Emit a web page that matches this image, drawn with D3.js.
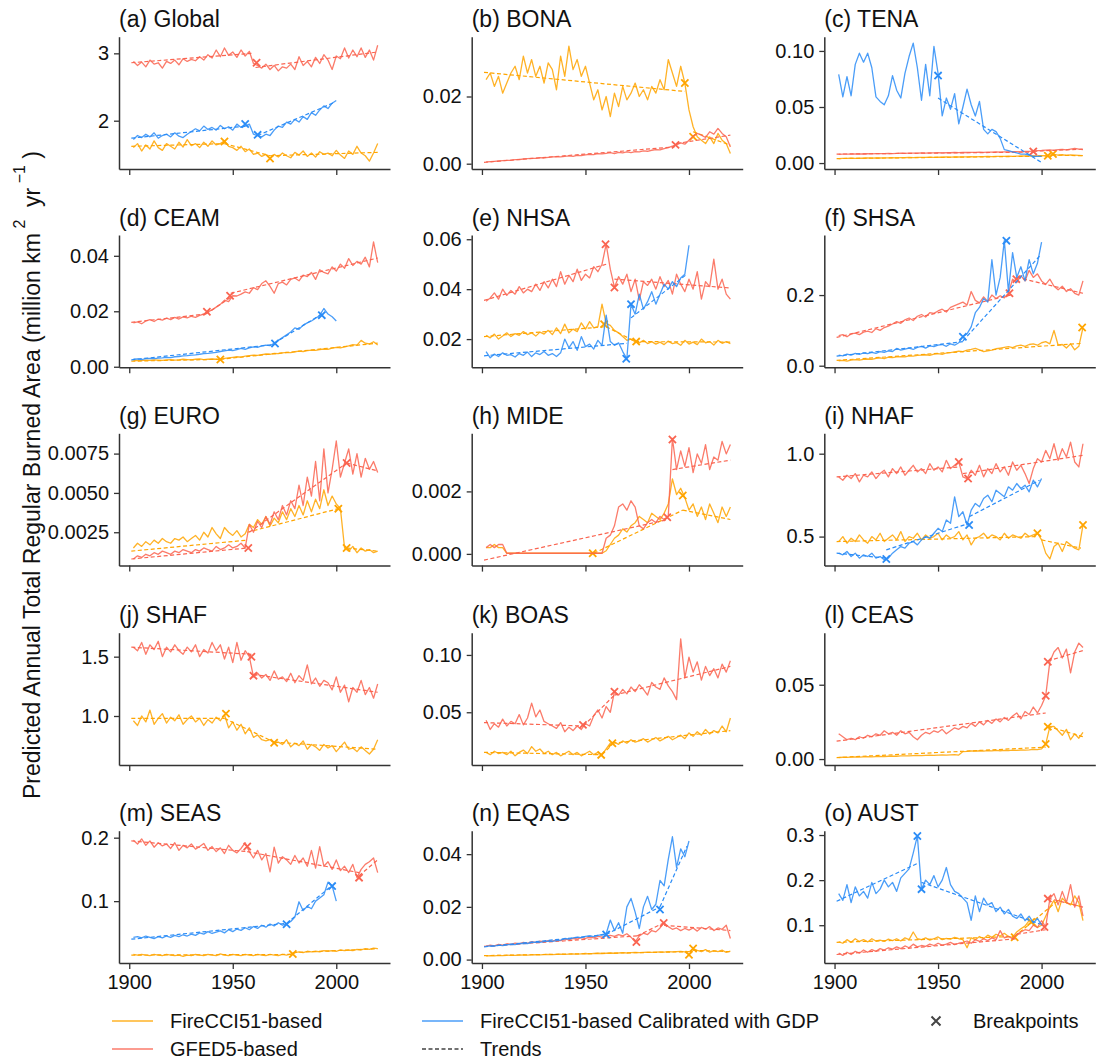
<!DOCTYPE html>
<html><head><meta charset="utf-8">
<script src="https://cdn.jsdelivr.net/npm/d3@7"></script>
<style>body{margin:0;background:#fff}svg{display:block;font-family:"Liberation Sans",Arial,sans-serif}</style>
</head><body><svg id="c" width="1097" height="1064"></svg>
<script>
// ---------- data (annual values sampled every 2 years from 1902) ----------
const startYear = 1902, yearStep = 2;
const xTicks = [1900, 1950, 2000];

// (a) Global
const aFire = [1.60,1.66,1.55,1.64,1.58,1.70,1.60,1.56,1.66,1.62,1.58,1.68,1.61,1.72,1.63,1.66,1.60,1.68,1.62,1.70,1.64,1.66,1.70,1.62,1.60,1.56,1.62,1.54,1.58,1.50,1.52,1.47,1.50,1.44,1.50,1.46,1.52,1.48,1.45,1.53,1.49,1.55,1.47,1.52,1.46,1.54,1.50,1.52,1.48,1.56,1.49,1.44,1.55,1.50,1.62,1.52,1.48,1.40,1.52,1.66];
const aGfed = [2.88,2.82,2.87,2.80,2.90,2.84,2.86,2.78,2.88,2.85,2.90,2.83,2.92,2.88,2.91,2.89,2.95,2.90,2.98,2.93,3.05,2.95,3.08,2.97,3.02,2.94,3.05,2.96,3.03,2.85,2.82,2.78,2.84,2.76,2.82,2.74,2.80,2.78,2.84,2.76,2.95,2.82,2.88,2.80,2.94,2.85,2.98,2.90,2.76,2.96,2.92,3.08,2.93,3.05,2.95,3.08,2.94,3.05,2.90,3.12];
const aGdp = [1.72,1.78,1.75,1.80,1.76,1.82,1.74,1.78,1.80,1.76,1.82,1.77,1.75,1.80,1.84,1.88,1.85,1.92,1.87,1.90,1.86,1.93,1.88,1.91,1.86,1.95,1.90,1.92,1.95,1.80,1.78,1.76,1.80,1.78,1.86,1.92,1.90,1.98,1.95,2.02,1.98,2.06,2.02,2.12,2.08,2.16,2.22,2.18,2.26,2.30];
const aTrendFire = [[[1901,1.62],[1946,1.66]],[[1946,1.66],[1968,1.48]],[[1968,1.48],[2020,1.53]]];
const aTrendGfed = [[[1901,2.86],[1959,3.0]],[[1961,2.79],[2020,3.02]]];
const aTrendGdp = [[[1901,1.74],[1956,1.92]],[[1962,1.78],[1999,2.27]]];
const aBreakFire = [[1946,1.69],[1968,1.44]];
const aBreakGfed = [[1961.5,2.86]];
const aBreakGdp = [[1956,1.95],[1962,1.79]];

// (b) BONA
const bFire = [0.025,0.027,0.023,0.026,0.021,0.024,0.027,0.029,0.025,0.032,0.027,0.031,0.026,0.029,0.024,0.030,0.028,0.022,0.032,0.026,0.035,0.028,0.031,0.026,0.029,0.024,0.019,0.022,0.016,0.020,0.014,0.021,0.017,0.023,0.019,0.021,0.024,0.020,0.022,0.019,0.023,0.021,0.025,0.022,0.031,0.027,0.023,0.029,0.024,0.016,0.011,0.008,0.007,0.006,0.008,0.006,0.009,0.007,0.006,0.003];
const bGfed = [0.0005,0.0006,0.0007,0.0008,0.0009,0.0010,0.0010,0.0012,0.0012,0.0014,0.0015,0.0016,0.0016,0.0018,0.0017,0.0019,0.0020,0.0021,0.0020,0.0022,0.0023,0.0022,0.0025,0.0024,0.0026,0.0028,0.0027,0.0030,0.0029,0.0031,0.0033,0.0030,0.0034,0.0032,0.0035,0.0033,0.0036,0.0035,0.0038,0.0037,0.0040,0.0042,0.0041,0.0045,0.0048,0.0052,0.0056,0.0062,0.0058,0.0070,0.0082,0.0090,0.0085,0.0078,0.0095,0.0088,0.0105,0.0090,0.0080,0.0050];
const bTrendFire = [[[1901,0.0272],[1998,0.0215]],[[2002,0.0095],[2020,0.0055]]];
const bTrendGfed = [[[1901,0.0004],[1993,0.0050]],[[1994,0.0060],[2020,0.0085]]];
const bBreakFire = [[1998,0.024],[2002,0.008]];
const bBreakGfed = [[1993.5,0.0056]];

// (c) TENA
const cFire = [0.0040,0.0042,0.0041,0.0043,0.0042,0.0044,0.0043,0.0045,0.0044,0.0046,0.0045,0.0047,0.0046,0.0048,0.0047,0.0049,0.0048,0.0050,0.0049,0.0050,0.0051,0.0050,0.0052,0.0051,0.0053,0.0052,0.0054,0.0053,0.0055,0.0054,0.0056,0.0055,0.0057,0.0056,0.0058,0.0057,0.0059,0.0058,0.0060,0.0059,0.0060,0.0061,0.0060,0.0062,0.0061,0.0063,0.0062,0.0064,0.0063,0.0065,0.0066,0.0070,0.0078,0.0070,0.0074,0.0068,0.0072,0.0070,0.0068,0.0066];
const cGfed = [0.0078,0.0079,0.0080,0.0079,0.0081,0.0082,0.0081,0.0083,0.0082,0.0084,0.0085,0.0084,0.0086,0.0085,0.0087,0.0088,0.0086,0.0088,0.0089,0.0088,0.0090,0.0089,0.0091,0.0090,0.0092,0.0091,0.0093,0.0092,0.0094,0.0093,0.0095,0.0094,0.0096,0.0095,0.0097,0.0096,0.0098,0.0097,0.0099,0.0098,0.0100,0.0099,0.0101,0.0102,0.0100,0.0103,0.0104,0.0106,0.0110,0.0112,0.0115,0.0118,0.0114,0.0120,0.0122,0.0118,0.0125,0.0130,0.0124,0.0120];
const cGdp = [0.079,0.059,0.077,0.060,0.088,0.098,0.090,0.098,0.085,0.059,0.055,0.052,0.060,0.078,0.065,0.058,0.080,0.095,0.107,0.085,0.056,0.088,0.060,0.104,0.080,0.042,0.058,0.048,0.062,0.035,0.050,0.066,0.052,0.042,0.055,0.030,0.026,0.030,0.028,0.022,0.012,0.011,0.010,0.009,0.008,0.008,0.007,0.006,0.006,0.006];
const cTrendFire = [[[1901,0.0040],[2003,0.0062]],[[2005,0.0072],[2020,0.0065]]];
const cTrendGfed = [[[1901,0.0080],[1996,0.0098]],[[1996,0.0105],[2020,0.0125]]];
const cTrendGdp = [[[1950,0.058],[2000,0.0005]]];
const cBreakFire = [[2003,0.0065],[2005.5,0.008]];
const cBreakGfed = [[1996,0.0104]];
const cBreakGdp = [[1950,0.078]];

// (d) CEAM
const dFire = [0.0022,0.0023,0.0022,0.0024,0.0023,0.0025,0.0024,0.0023,0.0025,0.0026,0.0024,0.0025,0.0027,0.0026,0.0025,0.0027,0.0028,0.0026,0.0027,0.0028,0.0027,0.0026,0.0030,0.0032,0.0034,0.0036,0.0035,0.0038,0.0040,0.0042,0.0041,0.0044,0.0046,0.0045,0.0048,0.0047,0.0050,0.0052,0.0051,0.0054,0.0056,0.0055,0.0058,0.0060,0.0059,0.0062,0.0064,0.0063,0.0067,0.0070,0.0068,0.0072,0.0075,0.0080,0.0078,0.0095,0.0085,0.0082,0.0090,0.0078];
const dGfed = [0.0158,0.0162,0.0155,0.0165,0.0170,0.0163,0.0172,0.0168,0.0175,0.0170,0.0178,0.0172,0.0180,0.0176,0.0182,0.0178,0.0185,0.0190,0.0198,0.0205,0.0215,0.0225,0.0240,0.0235,0.0256,0.0255,0.0262,0.0270,0.0265,0.0285,0.0278,0.0300,0.0310,0.0290,0.0265,0.0300,0.0305,0.0295,0.0315,0.0320,0.0310,0.0330,0.0325,0.0340,0.0315,0.0350,0.0340,0.0335,0.0360,0.0345,0.0370,0.0355,0.0390,0.0365,0.0380,0.0370,0.0395,0.0360,0.0450,0.0375];
const dGdp = [0.0027,0.0028,0.0026,0.0029,0.0030,0.0029,0.0031,0.0032,0.0034,0.0033,0.0036,0.0037,0.0039,0.0040,0.0042,0.0043,0.0045,0.0047,0.0048,0.0050,0.0052,0.0055,0.0057,0.0060,0.0058,0.0062,0.0066,0.0063,0.0068,0.0072,0.0070,0.0075,0.0078,0.0076,0.0084,0.0095,0.0105,0.0115,0.0125,0.0140,0.0135,0.0150,0.0158,0.0165,0.0175,0.0185,0.0210,0.0190,0.0180,0.0165];
const dTrendFire = [[[1901,0.0020],[1944,0.0027]],[[1944,0.0027],[2020,0.0085]]];
const dTrendGfed = [[[1901,0.0160],[1937,0.0190]],[[1937,0.0190],[1949,0.0250]],[[1949,0.0265],[2020,0.0392]]];
const dTrendGdp = [[[1901,0.0025],[1970,0.0080]],[[1970,0.0085],[1993,0.0190]]];
const dBreakFire = [[1944,0.0026]];
const dBreakGfed = [[1937.5,0.0198],[1948.7,0.0256]];
const dBreakGdp = [[1970.4,0.0084],[1993,0.0186]];

// (e) NHSA
const eFire = [0.0215,0.0205,0.0220,0.0200,0.0212,0.0225,0.0210,0.0222,0.0215,0.0230,0.0218,0.0225,0.0212,0.0228,0.0220,0.0235,0.0218,0.0245,0.0222,0.0260,0.0225,0.0240,0.0230,0.0265,0.0240,0.0270,0.0245,0.0250,0.0340,0.0262,0.0255,0.0235,0.0225,0.0210,0.0195,0.0200,0.0190,0.0185,0.0195,0.0182,0.0190,0.0180,0.0188,0.0178,0.0192,0.0182,0.0186,0.0175,0.0195,0.0180,0.0188,0.0178,0.0200,0.0185,0.0190,0.0176,0.0195,0.0183,0.0190,0.0182];
const eGfed = [0.0352,0.0365,0.0385,0.0360,0.0400,0.0375,0.0395,0.0380,0.0410,0.0385,0.0400,0.0390,0.0420,0.0395,0.0430,0.0405,0.0440,0.0410,0.0470,0.0420,0.0455,0.0430,0.0480,0.0435,0.0460,0.0445,0.0490,0.0470,0.0500,0.0580,0.0480,0.0407,0.0450,0.0420,0.0460,0.0390,0.0440,0.0356,0.0430,0.0415,0.0440,0.0400,0.0450,0.0410,0.0435,0.0380,0.0460,0.0420,0.0390,0.0440,0.0400,0.0470,0.0360,0.0430,0.0410,0.0520,0.0400,0.0440,0.0380,0.0360];
const eGdp = [0.0150,0.0125,0.0140,0.0130,0.0145,0.0135,0.0138,0.0128,0.0142,0.0135,0.0148,0.0130,0.0145,0.0138,0.0150,0.0135,0.0142,0.0130,0.0145,0.0200,0.0165,0.0190,0.0155,0.0210,0.0170,0.0180,0.0160,0.0195,0.0175,0.0296,0.0190,0.0175,0.0185,0.0150,0.0121,0.0340,0.0300,0.0380,0.0320,0.0350,0.0390,0.0340,0.0380,0.0420,0.0400,0.0430,0.0410,0.0445,0.0460,0.0576];
const eTrendFire = [[[1901,0.0210],[1960,0.0250]],[[1960,0.0250],[1974,0.0190]],[[1974,0.0190],[2020,0.0188]]];
const eTrendGfed = [[[1901,0.0355],[1960,0.0500]],[[1964,0.0440],[2020,0.0405]]];
const eTrendGdp = [[[1901,0.0133],[1970,0.0183]],[[1972,0.0285],[1999,0.0460]]];
const eBreakFire = [[1959,0.026],[1974.5,0.019]];
const eBreakGfed = [[1959.7,0.058],[1964,0.0407]];
const eBreakGdp = [[1969.7,0.0121],[1972,0.034]];

// (f) SHSA
const fFire = [0.014,0.015,0.013,0.016,0.017,0.016,0.018,0.019,0.018,0.021,0.022,0.020,0.024,0.023,0.025,0.026,0.025,0.028,0.027,0.029,0.030,0.031,0.029,0.033,0.034,0.032,0.036,0.037,0.039,0.041,0.040,0.044,0.046,0.049,0.045,0.040,0.042,0.044,0.048,0.050,0.052,0.054,0.051,0.056,0.058,0.055,0.060,0.062,0.058,0.065,0.068,0.062,0.100,0.058,0.060,0.050,0.062,0.045,0.055,0.108];
const fGfed = [0.085,0.088,0.082,0.090,0.092,0.088,0.095,0.098,0.094,0.105,0.100,0.108,0.112,0.118,0.125,0.120,0.130,0.135,0.128,0.140,0.145,0.138,0.150,0.148,0.155,0.160,0.152,0.165,0.170,0.175,0.180,0.172,0.210,0.185,0.178,0.195,0.182,0.200,0.190,0.198,0.192,0.205,0.245,0.235,0.255,0.240,0.270,0.250,0.260,0.240,0.230,0.245,0.225,0.215,0.225,0.210,0.218,0.205,0.200,0.240];
const fGdp = [0.030,0.028,0.033,0.030,0.035,0.032,0.036,0.034,0.038,0.035,0.040,0.038,0.042,0.040,0.049,0.044,0.047,0.050,0.046,0.052,0.055,0.050,0.056,0.054,0.058,0.060,0.055,0.062,0.058,0.065,0.082,0.090,0.110,0.150,0.165,0.190,0.180,0.300,0.200,0.250,0.354,0.210,0.320,0.250,0.280,0.240,0.300,0.260,0.290,0.350];
const fTrendFire = [[[1901,0.015],[2019,0.063]]];
const fTrendGfed = [[[1901,0.080],[1985,0.200]],[[1988,0.250],[2020,0.205]]];
const fTrendGdp = [[[1901,0.027],[1962,0.068]],[[1962,0.070],[1999,0.310]]];
const fBreakFire = [[2019.6,0.108]];
const fBreakGfed = [[1984.5,0.205],[1987.8,0.245]];
const fBreakGdp = [[1962,0.082],[1983,0.354]];

// (g) EURO
const gFire = [0.0015,0.0018,0.0016,0.0019,0.0017,0.0020,0.0018,0.0021,0.0019,0.0018,0.0021,0.0020,0.0022,0.0019,0.0021,0.0023,0.0020,0.0025,0.0022,0.0028,0.0024,0.0021,0.0028,0.0025,0.0023,0.0026,0.0022,0.0024,0.0030,0.0028,0.0033,0.0030,0.0035,0.0029,0.0034,0.0031,0.0038,0.0033,0.0040,0.0035,0.0042,0.0036,0.0045,0.0038,0.0046,0.0040,0.0052,0.0042,0.0048,0.0043,0.0040,0.0015,0.0013,0.0016,0.0012,0.0015,0.0013,0.0014,0.0012,0.0013];
const gGfed = [0.0008,0.0010,0.0009,0.0011,0.0010,0.0012,0.0011,0.0013,0.0012,0.0011,0.0013,0.0012,0.0014,0.0013,0.0012,0.0014,0.0013,0.0015,0.0014,0.0013,0.0016,0.0014,0.0015,0.0017,0.0015,0.0016,0.0018,0.0015,0.0030,0.0025,0.0032,0.0028,0.0035,0.0030,0.0038,0.0033,0.0042,0.0036,0.0045,0.0040,0.0055,0.0042,0.0060,0.0048,0.0070,0.0045,0.0078,0.0050,0.0065,0.0083,0.0060,0.0069,0.0078,0.0062,0.0075,0.0060,0.0072,0.0065,0.0070,0.0063];
const gTrendFire = [[[1901,0.0013],[1957,0.0020]],[[1957,0.0025],[2001,0.0040]],[[2005,0.0015],[2020,0.0013]]];
const gTrendGfed = [[[1901,0.0008],[1957,0.0015]],[[1958,0.0025],[2005,0.0069]],[[2005,0.0069],[2020,0.0064]]];
const gBreakFire = [[2001,0.0040],[2005,0.0015]];
const gBreakGfed = [[1957.5,0.0015],[2005,0.0069]];

// (h) MIDE
const hFire = [0.0002,0.0002,0.0003,0.0002,0.0002,0.00002,0.00002,0.00002,0.00002,0.00002,0.00002,0.00002,0.00002,0.00002,0.00002,0.00002,0.00002,0.00002,0.00002,0.00002,0.00002,0.00002,0.00002,0.00002,0.00002,0.00002,0.00002,0.00002,0.00002,0.0001,0.0003,0.0005,0.0006,0.0008,0.0007,0.0009,0.0010,0.0012,0.0011,0.0010,0.0013,0.0012,0.0011,0.0013,0.0016,0.0024,0.0019,0.0021,0.0018,0.0014,0.0016,0.0012,0.0015,0.0011,0.0016,0.0013,0.0010,0.0015,0.0012,0.0015];
const hGfed = [0.0002,0.0003,0.0002,0.0003,0.0003,0.00002,0.00002,0.00002,0.00002,0.00002,0.00002,0.00002,0.00002,0.00002,0.00002,0.00002,0.00002,0.00002,0.00002,0.00002,0.00002,0.00002,0.00002,0.00002,0.00002,0.00002,0.00002,0.00002,0.00002,0.0005,0.0006,0.0009,0.0015,0.0016,0.0014,0.0017,0.0015,0.0009,0.0008,0.0010,0.0011,0.0010,0.0012,0.0011,0.0012,0.0037,0.0027,0.0033,0.0028,0.0034,0.0026,0.0032,0.0029,0.0035,0.0027,0.0031,0.0030,0.0036,0.0032,0.0035];
const hTrendFire = [[[1954,0.00002],[1997,0.0014]],[[1997,0.0014],[2020,0.0011]]];
const hTrendGfed = [[[1901,-0.0002],[1990,0.0011]],[[1992,0.0027],[2020,0.0030]]];
const hBreakFire = [[1953.5,0.00002],[1997,0.00187]];
const hBreakGfed = [[1989.5,0.00117],[1992,0.00366]];

// (i) NHAF
const iFire = [0.47,0.50,0.46,0.49,0.47,0.51,0.48,0.46,0.50,0.48,0.52,0.47,0.49,0.51,0.48,0.53,0.47,0.50,0.49,0.52,0.48,0.51,0.49,0.50,0.52,0.48,0.51,0.49,0.50,0.53,0.48,0.51,0.45,0.49,0.50,0.52,0.49,0.51,0.50,0.48,0.52,0.49,0.51,0.50,0.49,0.52,0.50,0.51,0.52,0.48,0.40,0.365,0.44,0.46,0.41,0.47,0.45,0.43,0.42,0.57];
const iGfed = [0.86,0.84,0.87,0.85,0.88,0.83,0.87,0.86,0.89,0.85,0.88,0.90,0.86,0.91,0.88,0.92,0.87,0.90,0.93,0.89,0.91,0.88,0.94,0.90,0.92,0.89,0.96,0.91,0.93,0.95,0.86,0.85,0.90,0.87,0.93,0.86,0.91,0.88,0.94,0.89,0.92,0.87,0.95,0.90,0.93,0.88,0.82,0.91,0.97,0.95,1.02,0.97,1.06,0.96,1.03,0.98,1.07,0.95,0.92,1.06];
const iGdp = [0.40,0.39,0.41,0.38,0.40,0.37,0.39,0.38,0.40,0.37,0.38,0.36,0.37,0.40,0.42,0.44,0.43,0.46,0.47,0.45,0.48,0.50,0.49,0.52,0.55,0.53,0.60,0.58,0.74,0.62,0.65,0.57,0.66,0.70,0.68,0.73,0.75,0.71,0.78,0.76,0.74,0.80,0.78,0.82,0.79,0.81,0.77,0.84,0.80,0.85];
const iTrendFire = [[[1901,0.47],[1998,0.50]],[[2000,0.48],[2019,0.43]]];
const iTrendGfed = [[[1901,0.86],[1960,0.92]],[[1962,0.88],[2020,0.99]]];
const iTrendGdp = [[[1901,0.40],[1925,0.37]],[[1925,0.42],[1965,0.58]],[[1965,0.62],[1999,0.84]]];
const iBreakFire = [[1998,0.52],[2020,0.57]];
const iBreakGfed = [[1960,0.95],[1964.5,0.85]];
const iBreakGdp = [[1925,0.365],[1965,0.57]];

// (j) SHAF
const jFire = [0.96,0.92,1.00,0.95,1.05,0.93,0.98,1.02,0.94,0.99,0.96,1.01,0.93,0.97,1.00,0.95,0.98,0.92,0.97,0.94,0.99,0.96,1.01,0.90,0.95,0.88,0.93,0.85,0.90,0.82,0.84,0.80,0.79,0.80,0.77,0.78,0.76,0.80,0.74,0.77,0.75,0.79,0.72,0.76,0.74,0.71,0.76,0.73,0.75,0.70,0.74,0.78,0.72,0.73,0.70,0.74,0.71,0.68,0.72,0.80];
const jGfed = [1.58,1.55,1.62,1.52,1.60,1.56,1.63,1.50,1.58,1.54,1.60,1.55,1.52,1.58,1.54,1.60,1.50,1.56,1.53,1.62,1.55,1.60,1.48,1.58,1.45,1.62,1.47,1.55,1.50,1.33,1.36,1.32,1.35,1.30,1.38,1.31,1.33,1.29,1.36,1.28,1.34,1.30,1.43,1.27,1.32,1.25,1.30,1.28,1.22,1.33,1.20,1.26,1.12,1.24,1.20,1.30,1.18,1.24,1.15,1.27];
const jTrendFire = [[[1901,0.98],[1946,0.98]],[[1946,0.98],[1970,0.78]],[[1970,0.78],[2020,0.72]]];
const jTrendGfed = [[[1901,1.58],[1959,1.52]],[[1960,1.35],[2020,1.20]]];
const jBreakFire = [[1946.7,1.02],[1970,0.775]];
const jBreakGfed = [[1959,1.50],[1960,1.34]];

// (k) BOAS
const kFire = [0.015,0.013,0.016,0.014,0.015,0.013,0.016,0.012,0.015,0.017,0.014,0.020,0.016,0.018,0.014,0.016,0.013,0.015,0.012,0.014,0.016,0.013,0.015,0.012,0.014,0.016,0.013,0.015,0.013,0.018,0.023,0.024,0.022,0.025,0.023,0.026,0.024,0.025,0.027,0.024,0.026,0.028,0.025,0.027,0.029,0.026,0.028,0.030,0.027,0.032,0.029,0.033,0.030,0.035,0.031,0.034,0.032,0.038,0.033,0.045];
const kGfed = [0.043,0.035,0.040,0.037,0.044,0.038,0.042,0.040,0.048,0.039,0.045,0.058,0.046,0.052,0.042,0.040,0.038,0.036,0.041,0.033,0.037,0.034,0.038,0.035,0.040,0.038,0.047,0.052,0.045,0.055,0.050,0.068,0.065,0.070,0.066,0.072,0.068,0.074,0.070,0.065,0.076,0.072,0.070,0.080,0.073,0.068,0.061,0.114,0.080,0.098,0.085,0.094,0.078,0.090,0.082,0.088,0.080,0.092,0.085,0.095];
const kTrendFire = [[[1901,0.015],[1958,0.013]],[[1958,0.013],[1963,0.022]],[[1963,0.023],[2020,0.034]]];
const kTrendGfed = [[[1901,0.041],[1949,0.038]],[[1949,0.038],[1964,0.065]],[[1964,0.065],[2020,0.090]]];
const kBreakFire = [[1957.6,0.0128],[1963,0.023]];
const kBreakGfed = [[1948.8,0.039],[1964,0.068]];

// (l) CEAS
const lFire = [0.0010,0.0012,0.0011,0.0013,0.0014,0.0013,0.0015,0.0016,0.0015,0.0017,0.0018,0.0017,0.0019,0.0020,0.0019,0.0021,0.0022,0.0021,0.0023,0.0024,0.0023,0.0025,0.0026,0.0025,0.0027,0.0028,0.0026,0.0028,0.0030,0.0027,0.0050,0.0052,0.0055,0.0053,0.0056,0.0054,0.0057,0.0055,0.0058,0.0056,0.0059,0.0057,0.0060,0.0058,0.0061,0.0060,0.0062,0.0065,0.0063,0.0068,0.0101,0.0218,0.0220,0.0190,0.0160,0.0200,0.0130,0.0170,0.0140,0.0180];
const lGfed = [0.017,0.015,0.013,0.014,0.013,0.015,0.014,0.016,0.015,0.017,0.016,0.019,0.017,0.018,0.016,0.019,0.017,0.018,0.015,0.013,0.016,0.018,0.017,0.019,0.018,0.020,0.017,0.019,0.021,0.020,0.022,0.021,0.024,0.022,0.025,0.023,0.026,0.024,0.027,0.025,0.028,0.026,0.029,0.031,0.027,0.032,0.030,0.035,0.031,0.036,0.0426,0.0655,0.072,0.075,0.068,0.074,0.058,0.072,0.078,0.075];
const lTrendFire = [[[1901,0.0010],[2002,0.0080]],[[2003,0.0220],[2020,0.0150]]];
const lTrendGfed = [[[1901,0.012],[2002,0.031]],[[2003,0.066],[2020,0.073]]];
const lBreakFire = [[2002,0.0101],[2003,0.0218]];
const lBreakGfed = [[2002,0.0426],[2003,0.0655]];

// (m) SEAS
const mFire = [0.016,0.015,0.016,0.015,0.014,0.016,0.015,0.014,0.016,0.015,0.014,0.015,0.013,0.015,0.014,0.016,0.015,0.014,0.016,0.015,0.014,0.017,0.015,0.014,0.016,0.015,0.014,0.016,0.015,0.014,0.016,0.015,0.014,0.016,0.015,0.014,0.016,0.015,0.0166,0.019,0.020,0.019,0.021,0.020,0.021,0.020,0.022,0.021,0.022,0.021,0.023,0.022,0.023,0.022,0.024,0.023,0.025,0.024,0.026,0.025];
const mGfed = [0.196,0.190,0.198,0.188,0.195,0.185,0.192,0.187,0.190,0.183,0.192,0.180,0.188,0.184,0.190,0.182,0.186,0.191,0.180,0.186,0.178,0.184,0.175,0.188,0.180,0.176,0.183,0.192,0.178,0.168,0.180,0.165,0.175,0.146,0.185,0.160,0.170,0.165,0.158,0.172,0.160,0.168,0.155,0.180,0.152,0.186,0.155,0.162,0.150,0.165,0.148,0.155,0.145,0.158,0.137,0.150,0.158,0.162,0.168,0.145];
const mGdp = [0.043,0.044,0.042,0.045,0.043,0.041,0.044,0.042,0.045,0.043,0.046,0.044,0.047,0.045,0.048,0.046,0.050,0.048,0.052,0.049,0.051,0.053,0.050,0.055,0.052,0.056,0.054,0.058,0.055,0.060,0.057,0.062,0.059,0.064,0.061,0.066,0.062,0.064,0.068,0.075,0.099,0.085,0.092,0.088,0.100,0.105,0.110,0.130,0.124,0.100];
const mTrendFire = [[[1901,0.015],[1979,0.016]],[[1979,0.019],[2020,0.025]]];
const mTrendGfed = [[[1901,0.195],[1957,0.178]],[[1957,0.178],[2011,0.145]],[[2011,0.140],[2020,0.165]]];
const mTrendGdp = [[[1901,0.040],[1976,0.065]],[[1976,0.065],[1998,0.125]]];
const mBreakFire = [[1979,0.0166]];
const mBreakGfed = [[1957,0.186],[2011,0.137]];
const mBreakGdp = [[1976,0.0636],[1998,0.1237]];

// (n) EQAS
const nFire = [0.0014,0.0015,0.0014,0.0016,0.0015,0.0016,0.0017,0.0016,0.0017,0.0018,0.0017,0.0018,0.0019,0.0018,0.0019,0.0020,0.0019,0.0020,0.0021,0.0020,0.0021,0.0022,0.0021,0.0022,0.0023,0.0022,0.0023,0.0024,0.0023,0.0024,0.0025,0.0024,0.0025,0.0026,0.0025,0.0026,0.0027,0.0026,0.0027,0.0028,0.0027,0.0028,0.0029,0.0028,0.0030,0.0029,0.0030,0.0031,0.0029,0.0018,0.0042,0.0035,0.0030,0.0038,0.0028,0.0034,0.0030,0.0036,0.0027,0.0032];
const nGfed = [0.0050,0.0055,0.0052,0.0058,0.0055,0.0060,0.0058,0.0062,0.0060,0.0065,0.0062,0.0068,0.0065,0.0070,0.0068,0.0072,0.0070,0.0075,0.0072,0.0078,0.0075,0.0080,0.0078,0.0083,0.0080,0.0085,0.0082,0.0088,0.0085,0.0090,0.0092,0.0088,0.0095,0.0090,0.0098,0.0085,0.0067,0.0090,0.0100,0.0095,0.0110,0.0105,0.0120,0.0139,0.0125,0.0115,0.0120,0.0110,0.0118,0.0112,0.0120,0.0108,0.0122,0.0115,0.0125,0.0110,0.0120,0.0115,0.0130,0.0080];
const nGdp = [0.0050,0.0052,0.0051,0.0055,0.0053,0.0056,0.0058,0.0057,0.0060,0.0062,0.0061,0.0064,0.0066,0.0065,0.0068,0.0070,0.0069,0.0072,0.0074,0.0080,0.0078,0.0082,0.0085,0.0083,0.0088,0.0090,0.0087,0.0092,0.0095,0.0098,0.0150,0.0110,0.0140,0.0100,0.0200,0.0232,0.0180,0.0118,0.0200,0.0240,0.0190,0.0210,0.0300,0.0280,0.0380,0.0466,0.0350,0.0420,0.0390,0.0450];
const nTrendFire = [[[1901,0.0015],[2000,0.0030]],[[2002,0.0035],[2020,0.0030]]];
const nTrendGfed = [[[1901,0.0050],[1975,0.0090]],[[1975,0.0090],[1988,0.0140]],[[1988,0.0130],[2020,0.0110]]];
const nTrendGdp = [[[1901,0.0048],[1960,0.0095]],[[1960,0.0095],[1986,0.0200]],[[1986,0.0200],[1999,0.0430]]];
const nBreakFire = [[2000,0.0018],[2002,0.0042]];
const nBreakGfed = [[1974.6,0.0067],[1987.8,0.0139]];
const nBreakGdp = [[1960,0.0095],[1986,0.0190]];

// (o) AUST
const oFire = [0.063,0.060,0.068,0.062,0.070,0.064,0.068,0.063,0.070,0.065,0.067,0.064,0.069,0.066,0.070,0.065,0.072,0.068,0.085,0.070,0.068,0.072,0.067,0.070,0.074,0.068,0.071,0.069,0.073,0.070,0.068,0.050,0.072,0.068,0.075,0.070,0.078,0.073,0.080,0.076,0.082,0.075,0.073,0.085,0.092,0.098,0.110,0.105,0.095,0.100,0.120,0.140,0.155,0.130,0.160,0.150,0.145,0.165,0.150,0.110];
const oGfed = [0.038,0.033,0.040,0.035,0.042,0.038,0.045,0.040,0.046,0.042,0.048,0.045,0.050,0.047,0.052,0.048,0.054,0.050,0.058,0.052,0.055,0.053,0.058,0.055,0.060,0.056,0.058,0.062,0.057,0.060,0.062,0.065,0.060,0.068,0.064,0.070,0.066,0.072,0.068,0.088,0.072,0.075,0.070,0.080,0.085,0.090,0.088,0.100,0.095,0.110,0.096,0.159,0.170,0.145,0.175,0.150,0.190,0.140,0.165,0.120];
const oGdp = [0.170,0.155,0.190,0.150,0.185,0.165,0.175,0.160,0.195,0.170,0.180,0.200,0.185,0.195,0.175,0.205,0.215,0.225,0.260,0.298,0.180,0.200,0.190,0.210,0.185,0.200,0.228,0.190,0.175,0.170,0.160,0.150,0.111,0.165,0.130,0.160,0.145,0.150,0.130,0.140,0.125,0.135,0.120,0.115,0.125,0.110,0.120,0.105,0.115,0.100];
const oTrendFire = [[[1901,0.062],[1987,0.075]],[[1987,0.075],[2008,0.155]],[[2008,0.155],[2020,0.140]]];
const oTrendGfed = [[[1901,0.035],[1988,0.070]],[[1988,0.080],[2002,0.090]],[[2003,0.160],[2020,0.140]]];
const oTrendGdp = [[[1901,0.153],[1940,0.237]],[[1942,0.195],[1999,0.103]]];
const oBreakFire = [[1987,0.0733],[1995,0.107]];
const oBreakGfed = [[2001.4,0.096],[2003,0.159]];
const oBreakGdp = [[1940,0.298],[1942,0.180]];

// panel titles, y domains and tick values
const titles = ['(a) Global','(b) BONA','(c) TENA','(d) CEAM','(e) NHSA','(f) SHSA','(g) EURO','(h) MIDE','(i) NHAF','(j) SHAF','(k) BOAS','(l) CEAS','(m) SEAS','(n) EQAS','(o) AUST'];
const yDomains = [[1.283,3.247],[-0.00158,0.0378],[-0.0053,0.1127],[-0.0002,0.0475],[0.0087,0.0617],[-0.0045,0.37],[0.00038,0.00879],[-0.000375,0.00386],[0.325,1.123],[0.587,1.702],[0.004,0.1194],[-0.004,0.085],[0.0025,0.211],[-0.0013,0.0489],[0.0162,0.3096]];
const yTicks = [[2,3],[0,0.02],[0,0.05,0.10],[0,0.02,0.04],[0.02,0.04,0.06],[0,0.2],[0.0025,0.005,0.0075],[0,0.002],[0.5,1.0],[1.0,1.5],[0.05,0.10],[0,0.05],[0.1,0.2],[0,0.02,0.04],[0.1,0.2,0.3]];
const yFormats = ['d','.2f','.2f','.2f','.2f','.1f','.4f','.3f','.1f','.1f','.2f','.2f','.1f','.2f','.1f'];

const seriesNames = ['FireCCI51-based','GFED5-based','FireCCI51-based Calibrated with GDP','Trends','Breakpoints'];

// ---------- build panel table ----------
const fires = [aFire,bFire,cFire,dFire,eFire,fFire,gFire,hFire,iFire,jFire,kFire,lFire,mFire,nFire,oFire];
const gfeds = [aGfed,bGfed,cGfed,dGfed,eGfed,fGfed,gGfed,hGfed,iGfed,jGfed,kGfed,lGfed,mGfed,nGfed,oGfed];
const gdps = [aGdp,null,cGdp,dGdp,eGdp,fGdp,null,null,iGdp,null,null,null,mGdp,nGdp,oGdp];
const tFires = [aTrendFire,bTrendFire,cTrendFire,dTrendFire,eTrendFire,fTrendFire,gTrendFire,hTrendFire,iTrendFire,jTrendFire,kTrendFire,lTrendFire,mTrendFire,nTrendFire,oTrendFire];
const tGfeds = [aTrendGfed,bTrendGfed,cTrendGfed,dTrendGfed,eTrendGfed,fTrendGfed,gTrendGfed,hTrendGfed,iTrendGfed,jTrendGfed,kTrendGfed,lTrendGfed,mTrendGfed,nTrendGfed,oTrendGfed];
const tGdps = [aTrendGdp,null,cTrendGdp,dTrendGdp,eTrendGdp,fTrendGdp,null,null,iTrendGdp,null,null,null,mTrendGdp,nTrendGdp,oTrendGdp];
const bFires = [aBreakFire,bBreakFire,cBreakFire,dBreakFire,eBreakFire,fBreakFire,gBreakFire,hBreakFire,iBreakFire,jBreakFire,kBreakFire,lBreakFire,mBreakFire,nBreakFire,oBreakFire];
const bGfeds = [aBreakGfed,bBreakGfed,cBreakGfed,dBreakGfed,eBreakGfed,fBreakGfed,gBreakGfed,hBreakGfed,iBreakGfed,jBreakGfed,kBreakGfed,lBreakGfed,mBreakGfed,nBreakGfed,oBreakGfed];
const bGdps = [aBreakGdp,null,cBreakGdp,dBreakGdp,eBreakGdp,fBreakGdp,null,null,iBreakGdp,null,null,null,mBreakGdp,nBreakGdp,oBreakGdp];

// ---------- drawing ----------
const COL = {fire:'#FFA500', gfed:'#FA6450', gdp:'#2A8CF7'};
const AX = '#333';
const colLeft = [119, 471.7, 824.3], plotW = 271;
const rowTop = [36.7, 235, 433.3, 632.7, 830.7], plotH = 132.3;
const xDomain = [1895.05, 2025.95];

const svg = d3.select('#c');
const xMark = s => `M${-s},${-s}L${s},${s}M${-s},${s}L${s},${-s}`;

titles.forEach((title, i) => {
  const c = i % 3, r = Math.floor(i / 3);
  const x0 = colLeft[c], y0 = rowTop[r];
  const x = d3.scaleLinear().domain(xDomain).range([x0, x0 + plotW]);
  const y = d3.scaleLinear().domain(yDomains[i]).range([y0 + plotH, y0]);
  const g = svg.append('g');

  // axes
  const ya = d3.axisLeft(y).tickValues(yTicks[i]).tickFormat(d3.format(yFormats[i])).tickSize(5).tickSizeOuter(0).tickPadding(5);
  const gy = g.append('g').attr('transform', `translate(${x0},0)`).call(ya);
  const xa = d3.axisBottom(x).tickValues(xTicks).tickSize(6).tickSizeOuter(0).tickPadding(6)
    .tickFormat(r === 4 ? d3.format('d') : () => '');
  const gx = g.append('g').attr('transform', `translate(0,${y0 + plotH})`).call(xa);
  [gx, gy].forEach(a => {
    a.select('.domain').attr('stroke', AX).attr('stroke-width', 1.5);
    a.selectAll('.tick line').attr('stroke', AX).attr('stroke-width', 1.3);
    a.selectAll('.tick text').attr('fill', '#111').style('font-size', '20px').style('font-family', '"Liberation Sans",Arial,sans-serif');
  });

  // title
  g.append('text').attr('x', x0).attr('y', y0 - 9.5).text(title)
    .style('font-size', '23px').attr('fill', '#111');

  const line = d3.line().x(d => x(d[0])).y(d => y(d[1]));
  const toPts = arr => arr.map((v, k) => [startYear + k * yearStep, v]);

  const groups = [
    {vals: fires[i], trend: tFires[i], brk: bFires[i], col: COL.fire},
    {vals: gfeds[i], trend: tGfeds[i], brk: bGfeds[i], col: COL.gfed},
    {vals: gdps[i], trend: tGdps[i], brk: bGdps[i], col: COL.gdp}
  ];
  groups.forEach(s => {
    if (!s.vals) return;
    g.append('path').datum(toPts(s.vals)).attr('d', line)
      .attr('fill', 'none').attr('stroke', s.col).attr('stroke-width', 1.3).attr('stroke-opacity', 0.85).attr('stroke-linejoin', 'round');
    s.trend.forEach(seg => {
      g.append('path').datum(seg).attr('d', line).attr('fill', 'none')
        .attr('stroke', s.col).attr('stroke-width', 1.2).attr('stroke-dasharray', '4,2.5');
    });
    s.brk.forEach(b => {
      g.append('path').attr('d', xMark(3.6)).attr('transform', `translate(${x(b[0])},${y(b[1])})`)
        .attr('stroke', s.col).attr('stroke-width', 1.8).attr('fill', 'none');
    });
  });
});

// y label
const yl = svg.append('text').attr('transform', 'translate(40,475) rotate(-90)')
  .attr('text-anchor', 'middle').style('font-size', '23px').attr('fill', '#111');
yl.append('tspan').text('Predicted Annual Total Regular Burned Area (million km');
yl.append('tspan').attr('dy', -15).style('font-size', '16px').text('\u00a02');
yl.append('tspan').attr('dy', 15).text('\u00a0\u00a0yr');
yl.append('tspan').attr('dy', -15).style('font-size', '16px').text('\u00a0\u22121');
yl.append('tspan').attr('dy', 15).text('\u00a0)');

// legend
const leg = svg.append('g').style('font-size', '20px').attr('fill', '#111');
const legItems = [
  {x: 112, y: 1021, type: 'line', col: COL.fire, label: seriesNames[0]},
  {x: 112, y: 1049, type: 'line', col: COL.gfed, label: seriesNames[1]},
  {x: 422, y: 1021, type: 'line', col: COL.gdp, label: seriesNames[2]},
  {x: 422, y: 1049, type: 'dash', col: '#222', label: seriesNames[3]},
  {x: 926, y: 1021, type: 'mark', col: '#444', label: seriesNames[4]}
];
legItems.forEach(it => {
  if (it.type === 'mark') {
    leg.append('path').attr('d', xMark(4.5)).attr('transform', `translate(${it.x + 10},${it.y})`)
      .attr('stroke', it.col).attr('stroke-width', 2).attr('fill', 'none');
    leg.append('text').attr('x', it.x + 47).attr('y', it.y + 7).text(it.label);
  } else {
    leg.append('line').attr('x1', it.x).attr('x2', it.x + 41).attr('y1', it.y).attr('y2', it.y)
      .attr('stroke', it.col).attr('stroke-width', 1.3).attr('stroke-opacity', 0.85)
      .attr('stroke-dasharray', it.type === 'dash' ? '4,2.5' : null);
    leg.append('text').attr('x', it.x + 58).attr('y', it.y + 7).text(it.label);
  }
});
</script>
</body></html>
